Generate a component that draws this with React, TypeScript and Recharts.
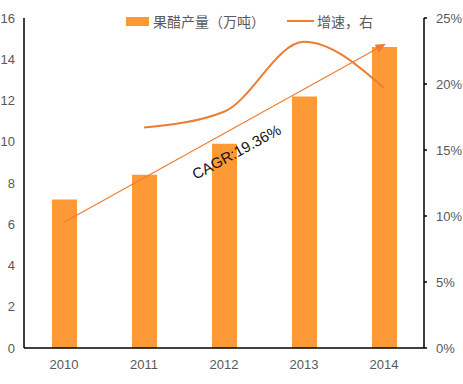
import React from "react";
import {
  ComposedChart,
  Bar,
  Line,
  XAxis,
  YAxis,
  ReferenceDot,
} from "recharts";

// categories and series
const years = ["2010", "2011", "2012", "2013", "2014"];
const output = [7.2, 8.4, 9.9, 12.2, 14.6]; // 万吨
const growth = [null, 0.167, 0.179, 0.232, 0.197];
const trend = [6.1, null, null, null, 14.7];
const leftTicks = [0, 2, 4, 6, 8, 10, 12, 14, 16];
const rightTicks = [0, 0.05, 0.1, 0.15, 0.2, 0.25];

const data = years.map((y, i) => ({
  year: y,
  output: output[i],
  growth: growth[i],
  trend: trend[i],
}));

const FONT = "'Liberation Sans Narrow', 'Arial Narrow', 'Liberation Sans', Arial, sans-serif";
const TEXT = "#595959";
const BAR = "#FD9A35";
const LINE = "#ED7D31";

const Arrow = (props: any) => {
  const { cx, cy, index } = props;
  if (index !== 4 || cx == null) return <g key={`d-${index}`} />;
  return (
    <polygon
      key={`d-${index}`}
      points="2,0 -8,-4.5 -8,4.5"
      fill={LINE}
      transform={`translate(${cx},${cy}) rotate(-28.5)`}
    />
  );
};

const CagrText = (props: any) => {
  const { cx, cy } = props;
  return (
    <text
      x={cx + 13}
      y={cy}
      textAnchor="middle"
      dominantBaseline="middle"
      fontSize={15}
      fontFamily="'Liberation Sans', Arial, sans-serif"
      fill="#111"
      transform={`rotate(-28.5, ${cx + 13}, ${cy})`}
    >
      CAGR:19.36%
    </text>
  );
};

export default function App() {
  return (
    <div style={{ position: "absolute", left: 0, top: 0, width: 463, height: 384, background: "#fff" }}>
      <ComposedChart
        width={463}
        height={384}
        data={data}
        margin={{ top: 18, right: 0, bottom: 0, left: 0 }}
        barCategoryGap="0%"
      >
        <XAxis
          dataKey="year"
          height={36}
          axisLine={{ stroke: "#000", strokeWidth: 1.5 }}
          tickLine={false}
          tick={{ fontSize: 13, fill: TEXT, fontFamily: FONT }}
          tickMargin={6}
        />
        <YAxis
          yAxisId="left"
          width={24}
          domain={[0, 16]}
          ticks={leftTicks}
          interval={0}
          axisLine={{ stroke: "#000", strokeWidth: 1.5 }}
          tickLine={false}
          tickSize={6}
          tickMargin={3}
          tick={{ fontSize: 13, fill: TEXT, fontFamily: FONT }}
        />
        <YAxis
          yAxisId="right"
          orientation="right"
          width={39}
          domain={[0, 0.25]}
          ticks={rightTicks}
          interval={0}
          axisLine={{ stroke: "#000", strokeWidth: 1.5 }}
          tickLine={{ stroke: "#000", strokeWidth: 1.5 }}
          tickSize={3}
          tickMargin={9}
          tickFormatter={(v: number) => `${Math.round(v * 100)}%`}
          tick={{ fontSize: 13, fill: TEXT, fontFamily: FONT, textAnchor: "start" }}
        />
        <Bar
          yAxisId="left"
          dataKey="output"
          fill={BAR}
          barSize={25}
          isAnimationActive={false}
        />
        <Line
          yAxisId="right"
          dataKey="growth"
          type="monotone"
          stroke={LINE}
          strokeWidth={2}
          dot={false}
          isAnimationActive={false}
        />
        <Line
          yAxisId="left"
          dataKey="trend"
          type="linear"
          connectNulls
          stroke={LINE}
          strokeWidth={1.2}
          dot={Arrow}
          activeDot={false}
          isAnimationActive={false}
        />
        <ReferenceDot
          yAxisId="left"
          x="2012"
          y={9.45}
          r={0}
          shape={CagrText}
        />
      </ComposedChart>
      <div
        style={{
          position: "absolute",
          top: 11,
          left: 126,
          display: "flex",
          alignItems: "center",
          fontSize: 14,
          color: TEXT,
          fontFamily: "'Noto Sans CJK SC', sans-serif",
          whiteSpace: "nowrap",
        }}
      >
        <span style={{ display: "inline-block", width: 23, height: 9, background: BAR, marginRight: 4 }} />
        <span>果醋产量（万吨）</span>
        <span style={{ display: "inline-block", width: 27, height: 2, background: LINE, marginLeft: 22, marginRight: 3 }} />
        <span>增速，右</span>
      </div>
    </div>
  );
}
